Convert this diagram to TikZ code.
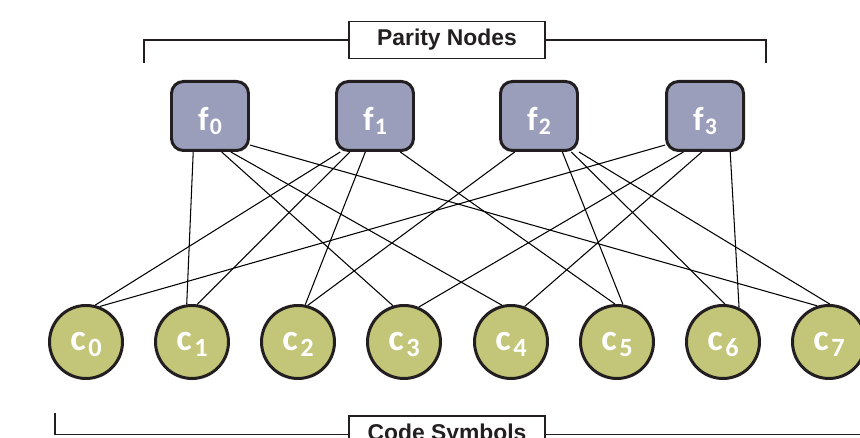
\documentclass[tikz,border=0pt]{standalone}
\usepackage{fontspec}
\setmainfont{Liberation Sans}
\newfontfamily\calibfont{Carlito}
\usepackage{tikz}

\definecolor{paridad}{RGB}{155,158,187}
\definecolor{simbolo}{RGB}{195,198,120}
\definecolor{borde}{RGB}{35,31,32}

\newcommand{\fsym}[1]{{\fontsize{19}{19}\selectfont f}\kern0.6pt\raisebox{-2.8pt}{\fontsize{13.5}{14}\selectfont #1}}
\newcommand{\csym}[1]{{\fontsize{21}{21}\selectfont c}\kern1.4pt\raisebox{-3.5pt}{\fontsize{15}{15}\selectfont #1}}

\tikzset{
  fnode/.style={draw=borde, line width=1.7pt, fill=paridad, rounded corners=0.24cm,
    minimum width=1.54cm, minimum height=1.38cm, inner sep=0pt,
    text=white, font=\calibfont\bfseries, text height=16pt, text depth=0pt},
  cnode/.style={circle, draw=borde, line width=1.7pt, fill=simbolo, minimum size=1.46cm,
    inner sep=0pt, text=white, font=\calibfont\bfseries, text height=9.3pt, text depth=0pt},
  etiqueta/.style={draw=borde, line width=1.1pt, fill=white, minimum width=3.92cm,
    minimum height=0.74cm, inner sep=0pt, text=borde, font=\bfseries\fontsize{13}{15}\selectfont},
  enlace/.style={line width=0.6pt, black},
  corchete/.style={line width=1.1pt, draw=borde}
}

\begin{document}
\begin{tikzpicture}
% Grafo de Tanner: nodos de paridad f_i arriba, simbolos c_j abajo
\path[use as bounding box, clip] (0,0) rectangle (17.2,8.76);
\node[fnode] (f0) at (4.2,6.44) {\fsym{0}};
\node[fnode] (f1) at (7.5,6.44) {\fsym{1}};
\node[fnode] (f2) at (10.78,6.44) {\fsym{2}};
\node[fnode] (f3) at (14.1,6.44) {\fsym{3}};
\node[cnode] (c0) at (1.72,1.92) {\csym{0}};
\node[cnode] (c1) at (3.84,1.92) {\csym{1}};
\node[cnode] (c2) at (5.96,1.92) {\csym{2}};
\node[cnode] (c3) at (8.08,1.92) {\csym{3}};
\node[cnode] (c4) at (10.22,1.92) {\csym{4}};
\node[cnode] (c5) at (12.34,1.92) {\csym{5}};
\node[cnode] (c6) at (14.46,1.92) {\csym{6}};
\node[cnode] (c7) at (16.58,1.92) {\csym{7}};
\draw[enlace] (f0.-115) -- (c1.98);
\draw[enlace] (f0.-72) -- (c3.107);
\draw[enlace] (f0.-60) -- (c4.104);
\draw[enlace] (f0.-36) -- (c7.108);
\draw[enlace] (f1.-134) -- (c0.76);
\draw[enlace] (f1.-125) -- (c1.82);
\draw[enlace] (f1.-105) -- (c2.79);
\draw[enlace] (f1.-55) -- (c5.93);
\draw[enlace] (f2.-124) -- (c2.75);
\draw[enlace] (f2.-57) -- (c5.81);
\draw[enlace] (f2.-48) -- (c6.87);
\draw[enlace] (f2.-42) -- (c7.89);
\draw[enlace] (f3.-144) -- (c0.69);
\draw[enlace] (f3.-121) -- (c3.67);
\draw[enlace] (f3.-95) -- (c4.69);
\draw[enlace] (f3.-55) -- (c6.65);
\node[etiqueta] (paridad) at (8.94,7.96) {Parity Nodes};
\node[etiqueta] (codigo) at (8.94,0.07) {Code Symbols};
\draw[corchete] (2.88,7.5) |- (paridad.west);
\draw[corchete] (paridad.east) -| (15.32,7.5);
\draw[corchete] (1.1,0.5) |- (codigo.west);
\draw[corchete] (codigo.east) -- (17.6,0.07);
\end{tikzpicture}
\end{document}
